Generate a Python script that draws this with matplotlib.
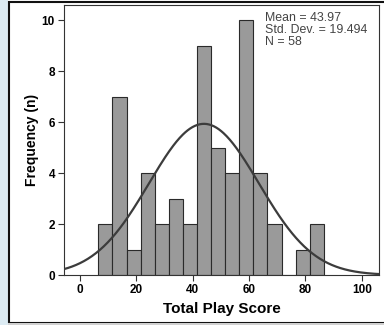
import numpy as np
import matplotlib
matplotlib.use('Agg')
import matplotlib.pyplot as plt
from matplotlib.patches import Rectangle

plt.rcParams['font.family'] = ['Liberation Sans', 'DejaVu Sans']

# histogram data (bin edges and counts)
bin_edges = [6.5, 11.5, 16.5, 21.5, 26.5, 31.5, 36.5, 41.5, 46.5,
             51.5, 56.5, 61.5, 66.5, 71.5, 76.5, 81.5, 86.5]
counts = [2, 7, 1, 4, 2, 3, 2, 9, 5, 4, 10, 4, 2, 0, 1, 2]
mean = 43.97
std = 19.494
n = 58
x_ticks = [0, 20, 40, 60, 80, 100]
y_ticks = [0, 2, 4, 6, 8, 10]

fig = plt.figure(figsize=(3.84, 3.25), dpi=100)
fig.patch.set_facecolor('white')

# page background strip and frame
fig.patches.append(Rectangle((0, 0), 8 / 384, 1, transform=fig.transFigure,
                             facecolor='#dcebf3', edgecolor='none', zorder=0))
fig.patches.append(Rectangle((8.5 / 384, 2.5 / 325), 1, 321 / 325,
                             transform=fig.transFigure, facecolor='none',
                             edgecolor='#111111', linewidth=1.5, zorder=1))
fig.patches.append(Rectangle((8 / 384, 0), 1, 2 / 325, transform=fig.transFigure,
                             facecolor='#d0d0d0', edgecolor='none', zorder=1))

ax = fig.add_axes([64 / 384, 50 / 325, 315 / 384, 270 / 325])

widths = np.diff(bin_edges)
ax.bar(bin_edges[:-1], counts, width=widths, align='edge',
       color='#9a9a9a', edgecolor='#2a2a2a', linewidth=0.8, zorder=2)

xs = np.linspace(-6, 107, 400)
bw = widths[0]
ys = n * bw / (std * np.sqrt(2 * np.pi)) * np.exp(-0.5 * ((xs - mean) / std) ** 2)
ax.plot(xs, ys, color='#3c3c3c', linewidth=1.6, zorder=3)

ax.set_xlim(-5.7, 106.1)
ax.set_ylim(0, 10.6)
ax.set_xticks(x_ticks)
ax.set_yticks(y_ticks)
ax.tick_params(direction='out', length=4, width=0.8, pad=2.5,
               labelsize=8.5, color='#333333')
for lbl in ax.get_xticklabels() + ax.get_yticklabels():
    lbl.set_fontweight('bold')

for s in ax.spines.values():
    s.set_color('#333333')
    s.set_linewidth(0.8)

ax.set_xlabel('Total Play Score', fontsize=11, fontweight='bold', labelpad=4)
ax.set_ylabel('Frequency (n)', fontsize=10, fontweight='bold', labelpad=2)

ax.text(0.637, 0.975,
        'Mean = %.2f\nStd. Dev. = %.3f\nN = %d' % (mean, std, n),
        transform=ax.transAxes, ha='left', va='top', fontsize=8.9,
        linespacing=1.02, color='#444444')

fig.savefig('out.png', dpi=100)
